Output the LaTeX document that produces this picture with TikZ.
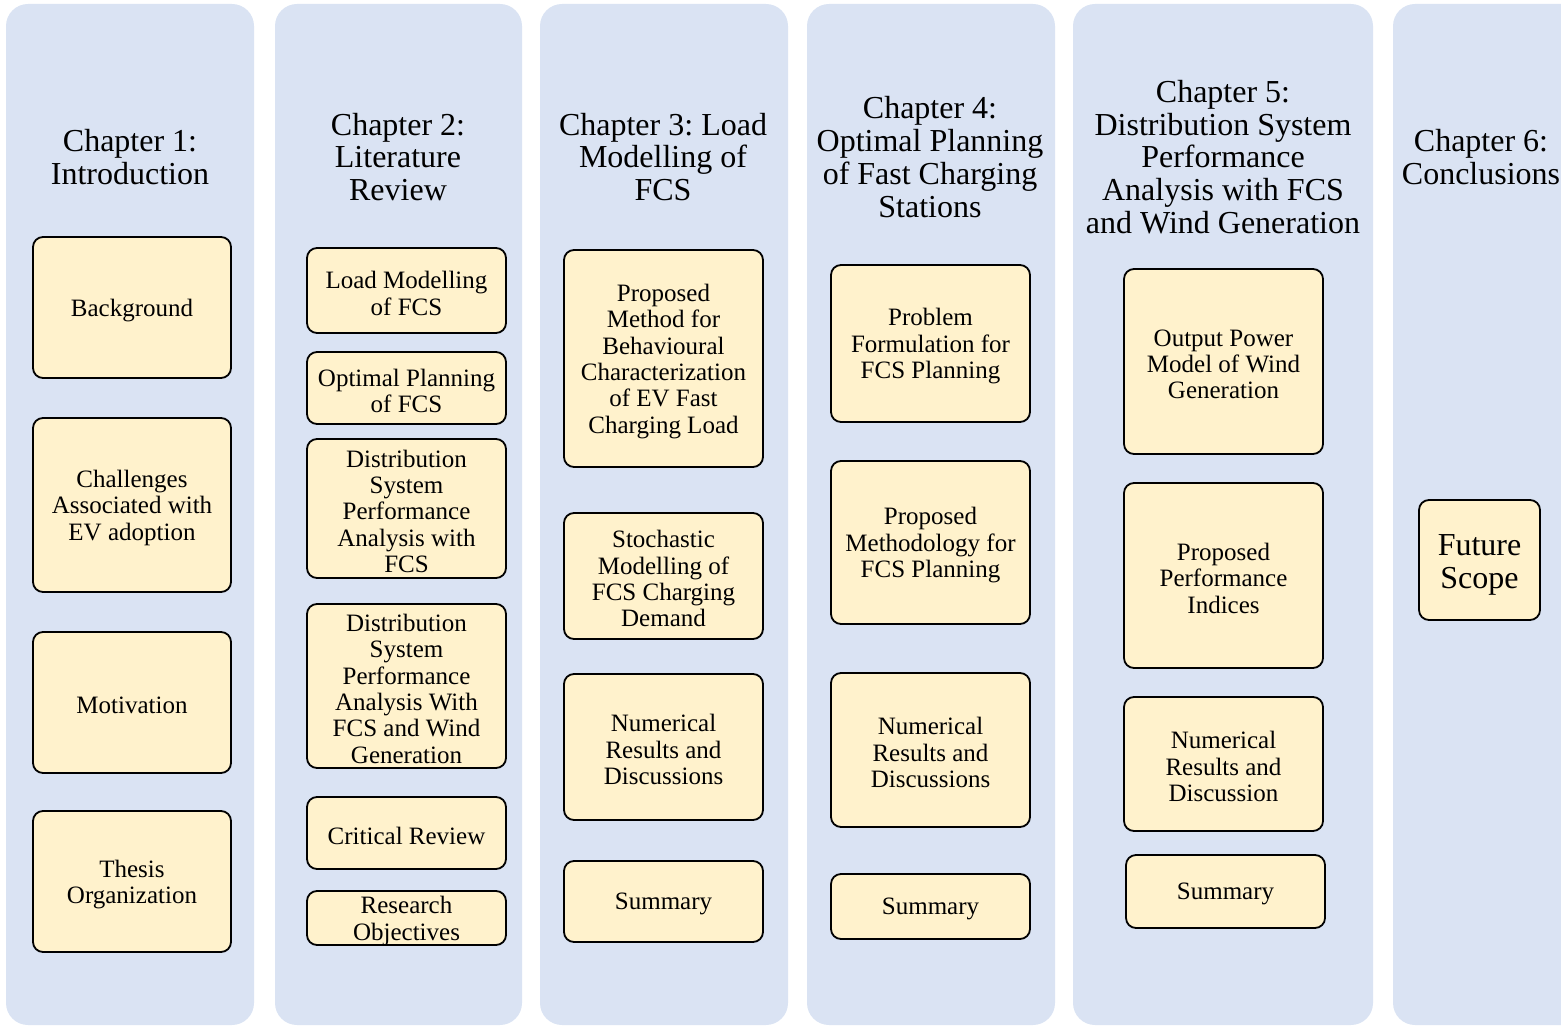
\documentclass[tikz,border=0pt]{standalone}
\usepackage{fontspec}
\setmainfont{Liberation Serif}
\frenchspacing
\definecolor{colfill}{HTML}{DAE3F3}
\definecolor{boxfill}{HTML}{FFF2CC}
\tikzset{
  colbg/.style={fill=colfill, draw=none, rounded corners=11pt},
  ybox/.style={draw=black, fill=boxfill, line width=0.9pt, rounded corners=5pt,
    inner sep=1pt},
  btext/.style={align=center, inner sep=0pt, font=\fontsize{12.5}{13.2}\selectfont},
  ttl/.style={align=center, inner sep=0pt, font=\fontsize{16}{16.4}\selectfont}
}
\newcommand\bx[6]{\node[ybox, minimum width={(#4-#2)*0.5pt}, minimum height={(#5-#3)*0.5pt}] (#1) at ({(#2+#4)/2},{(#3+#5)/2}) {};
\node[btext] (#1-t) at ([yshift=-1.4pt]#1.center) {#6};}
\begin{document}
\begin{tikzpicture}[x=0.5pt,y=-0.5pt]
\useasboundingbox (0,0) rectangle (1561,1026);
% columns
\path[colbg] (6,4) rectangle (254,1025);
\path[colbg] (275,4) rectangle (522,1025);
\path[colbg] (540,4) rectangle (788,1025);
\path[colbg] (807,4) rectangle (1055,1025);
\path[colbg] (1073,4) rectangle (1373,1025);
\path[colbg] (1393,4) rectangle (1660,1025);
% titles
\node[ttl] (t1) at (130,157) {Chapter 1:\\Introduction};
\node[ttl] (t2) at (398,157) {Chapter 2:\\Literature\\Review};
\node[ttl] (t3) at (663,157) {Chapter 3: Load\\Modelling of\\FCS};
\node[ttl] (t4) at (930,157) {Chapter 4:\\Optimal Planning\\of Fast Charging\\Stations};
\node[ttl] (t5) at (1223,157) {Chapter 5:\\Distribution System\\Performance\\Analysis with FCS\\and Wind Generation};
\node[ttl] (t6) at (1481,157) {Chapter 6:\\Conclusions};
% chapter 1
\bx{c1a}{33}{237}{231}{378}{Background}
\bx{c1b}{33}{418}{231}{592}{Challenges\\Associated with\\EV adoption}
\bx{c1c}{33}{632}{231}{773}{Motivation}
\bx{c1d}{33}{811}{231}{952}{Thesis\\Organization}
% chapter 2
\bx{c2a}{307}{248}{506}{333}{Load Modelling\\of FCS}
\bx{c2b}{307}{352}{506}{424}{Optimal Planning\\of FCS}
\bx{c2c}{307}{439}{506}{578}{Distribution\\System\\Performance\\Analysis with\\FCS}
\bx{c2d}{307}{604}{506}{768}{Distribution\\System\\Performance\\Analysis With\\FCS and Wind\\Generation}
\bx{c2e}{307}{797}{506}{869}{Critical Review}
\bx{c2f}{307}{891}{506}{945}{Research\\Objectives}
% chapter 3
\bx{c3a}{564}{250}{763}{467}{Proposed\\Method for\\Behavioural\\Characterization\\of EV Fast\\Charging Load}
\bx{c3b}{564}{513}{763}{639}{Stochastic\\Modelling of\\FCS Charging\\Demand}
\bx{c3c}{564}{674}{763}{820}{Numerical\\Results and\\Discussions}
\bx{c3d}{564}{861}{763}{942}{Summary}
% chapter 4
\bx{c4a}{831}{265}{1030}{422}{Problem\\Formulation for\\FCS Planning}
\bx{c4b}{831}{461}{1030}{624}{Proposed\\Methodology for\\FCS Planning}
\bx{c4c}{831}{673}{1030}{827}{Numerical\\Results and\\Discussions}
\bx{c4d}{831}{874}{1030}{939}{Summary}
% chapter 5
\bx{c5a}{1124}{269}{1323}{454}{Output Power\\Model of Wind\\Generation}
\bx{c5b}{1124}{483}{1323}{668}{Proposed\\Performance\\Indices}
\bx{c5c}{1124}{697}{1323}{831}{Numerical\\Results and\\Discussion}
\bx{c5d}{1126}{855}{1325}{928}{Summary}
% chapter 6
\node[ybox, minimum width={121*0.5pt}, minimum height={120*0.5pt}] (c6a) at (1479.5,560) {};
\node[btext, font=\fontsize{16}{16.5}\selectfont] (c6a-t) at ([yshift=-2.4pt]c6a.center) {Future\\Scope};
\end{tikzpicture}
\end{document}
